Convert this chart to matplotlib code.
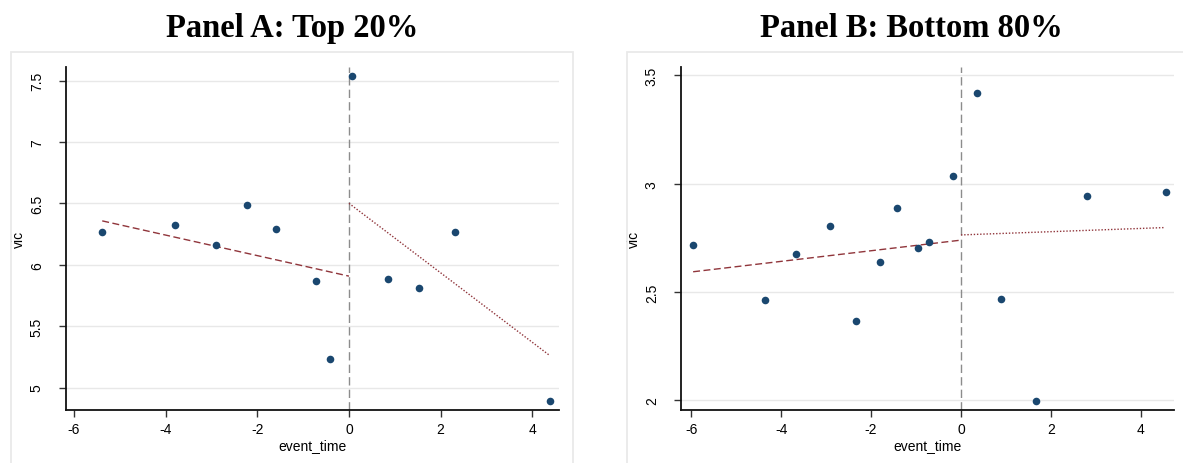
import numpy as np
import matplotlib.pyplot as plt
from matplotlib.patches import Rectangle

# Panel A: Top 20%
a_x = [-5.38, -3.79, -2.91, -2.23, -1.60, -0.72, -0.42, 0.07, 0.85, 1.53, 2.32, 4.38]
a_y = [6.27, 6.32, 6.16, 6.485, 6.29, 5.87, 5.23, 7.54, 5.88, 5.81, 6.27, 4.89]
a_pre_x = [-5.38, 0.0]
a_pre_y = [6.357, 5.907]
a_post_x = [0.0, 4.38]
a_post_y = [6.50, 5.26]

# Panel B: Bottom 80%
b_x = [-5.96, -4.36, -3.66, -2.91, -2.33, -1.81, -1.42, -0.95, -0.72, -0.18,
       0.36, 0.90, 1.67, 2.80, 4.56]
b_y = [2.716, 2.462, 2.677, 2.805, 2.367, 2.640, 2.886, 2.702, 2.731, 3.036,
       3.419, 2.467, 1.996, 2.944, 2.964]
b_pre_x = [-5.96, 0.0]
b_pre_y = [2.594, 2.740]
b_post_x = [0.0, 4.54]
b_post_y = [2.764, 2.798]

a_yticks = [5, 5.5, 6, 6.5, 7, 7.5]
b_yticks = [2, 2.5, 3, 3.5]
xticks = [-6, -4, -2, 0, 2, 4]

NAVY = "#1a476f"
MAROON = "#90353b"

W, H = 1183, 464
fig = plt.figure(figsize=(W / 100, H / 100), dpi=100)
plt.rcParams["font.family"] = ["Liberation Sans", "DejaVu Sans"]


def panel(rect, frame, title, x, y, prex, prey, postx, posty, yticks, xlim, ylim):
    # light gray graph region box
    fig.patches.append(Rectangle((frame[0] / W, -0.05), (frame[1] - frame[0]) / W,
                                 1.05 - frame[2] / H, transform=fig.transFigure,
                                 fill=False, edgecolor="#e9e9e9", linewidth=1.3))
    ax = fig.add_axes([rect[0] / W, 1 - rect[3] / H, (rect[1] - rect[0]) / W,
                       (rect[3] - rect[2]) / H])
    for yt in yticks:
        ax.axhline(yt, color="#e8e8e8", linewidth=1.0, zorder=0)
    ax.axvline(0, color="#8c8c8c", linewidth=1.0, dashes=(6, 3), zorder=1)
    ax.plot(prex, prey, color=MAROON, linewidth=1.0, dashes=(5, 2.5), zorder=2)
    ax.plot(postx, posty, color=MAROON, linewidth=1.0, dashes=(1, 1.3), zorder=2)
    ax.scatter(x, y, s=30, color=NAVY, zorder=3, linewidths=0)
    ax.set_xlim(xlim)
    ax.set_ylim(ylim)
    ax.set_xticks(xticks)
    ax.set_xticklabels([str(t) for t in xticks])
    ax.set_yticks(yticks)
    ax.set_yticklabels([("%g" % t) for t in yticks], rotation=90, va="center")
    ax.tick_params(axis="both", length=5, width=1, color="#333333", labelsize=10)
    ax.tick_params(axis="x", pad=4)
    ax.tick_params(axis="y", pad=11)
    ax.spines["top"].set_visible(False)
    ax.spines["right"].set_visible(False)
    for s in ("left", "bottom"):
        ax.spines[s].set_linewidth(1.3)
        ax.spines[s].set_color("#111111")
    ax.set_xlabel("event_time", fontsize=10, labelpad=1)
    ax.set_ylabel("vic", fontsize=10, labelpad=3)
    cx = (frame[0] + frame[1]) / 2
    fig.text(cx / W, 1 - 37 / H, title, ha="center", va="baseline",
             family=["Liberation Serif"], fontweight="bold", fontsize=23.5)
    return ax


panel((66, 559, 68, 411), (11, 573, 53), "Panel A: Top 20%",
      a_x, a_y, a_pre_x, a_pre_y, a_post_x, a_post_y, a_yticks,
      (-6.17, 4.58), (4.817, 7.61))
panel((681, 1174, 68, 411), (627, 1195, 53), "Panel B: Bottom 80%",
      b_x, b_y, b_pre_x, b_pre_y, b_post_x, b_post_y, b_yticks,
      (-6.23, 4.74), (1.956, 3.539))

fig.savefig("out.png", dpi=100)
